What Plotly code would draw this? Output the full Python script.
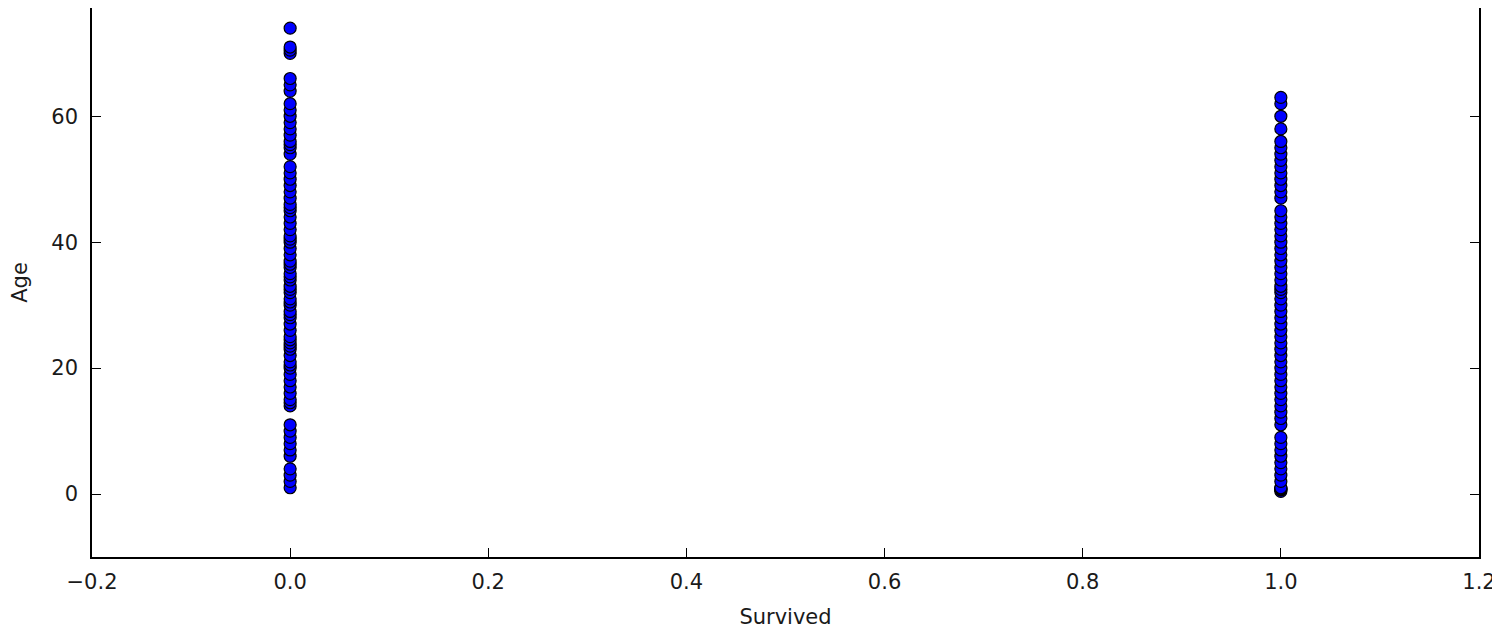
import plotly.graph_objects as go

# Distinct ages of passengers who did not survive (Survived = 0)
ages_died = [1, 2, 3, 4, 6, 7, 8, 9, 10, 11, 14, 14.5, 15, 16, 17, 18, 19, 20, 20.5,
             21, 22, 23, 23.5, 24, 24.5, 25, 26, 27, 28, 28.5, 29, 30, 30.5, 31, 32,
             32.5, 33, 34, 34.5, 35, 36, 36.5, 37, 38, 39, 40, 40.5, 41, 42, 43, 44,
             45, 45.5, 46, 47, 48, 49, 50, 51, 52, 54, 55, 55.5, 56, 57, 58, 59, 60,
             61, 62, 64, 65, 66, 70, 70.5, 71, 74]
# Distinct ages of passengers who survived (Survived = 1)
ages_survived = [0.42, 0.67, 0.75, 0.83, 0.92, 1, 2, 3, 4, 5, 6, 7, 8, 9, 11, 12, 13,
                 14, 15, 16, 17, 18, 19, 20, 21, 22, 23, 24, 25, 26, 27, 28, 29, 30,
                 31, 32, 32.5, 33, 34, 35, 36, 37, 38, 39, 40, 41, 42, 43, 44, 45, 47,
                 48, 49, 50, 51, 52, 53, 54, 55, 56, 58, 60, 62, 63]

x_ticks = [-0.2, 0.0, 0.2, 0.4, 0.6, 0.8, 1.0, 1.2]
y_ticks = [0, 20, 40, 60]

xs = [0] * len(ages_died) + [1] * len(ages_survived)
ys = ages_died + ages_survived

fig = go.Figure()
fig.add_trace(go.Scatter(
    x=xs, y=ys, mode="markers",
    marker=dict(size=12, color="#0000ff", line=dict(color="black", width=1.2)),
    showlegend=False,
))

font = dict(family="DejaVu Sans", size=21, color="#1a1a1a")
fig.update_layout(
    width=1492, height=623,
    margin=dict(l=84, r=21, t=0, b=74),
    paper_bgcolor="white", plot_bgcolor="white",
    font=font,
    xaxis=dict(
        range=[-0.2, 1.2], tickvals=x_ticks, tickformat=".1f",
        ticks="inside", ticklen=9, tickwidth=1, tickcolor="black",
        showline=True, linecolor="black", linewidth=1.5, mirror=False,
        showgrid=False, zeroline=False,
        ticklabelstandoff=5,
        title=dict(text="Survived", standoff=16, font=font),
    ),
    yaxis=dict(
        range=[-10, 77.2], tickvals=y_ticks,
        ticks="inside", ticklen=9, tickwidth=1, tickcolor="black",
        showline=True, linecolor="black", linewidth=1.5, mirror="ticks",
        showgrid=False, zeroline=False,
        ticklabelstandoff=8,
        title=dict(text="Age", standoff=20, font=font),
    ),
)

fig.write_html("out.html")
